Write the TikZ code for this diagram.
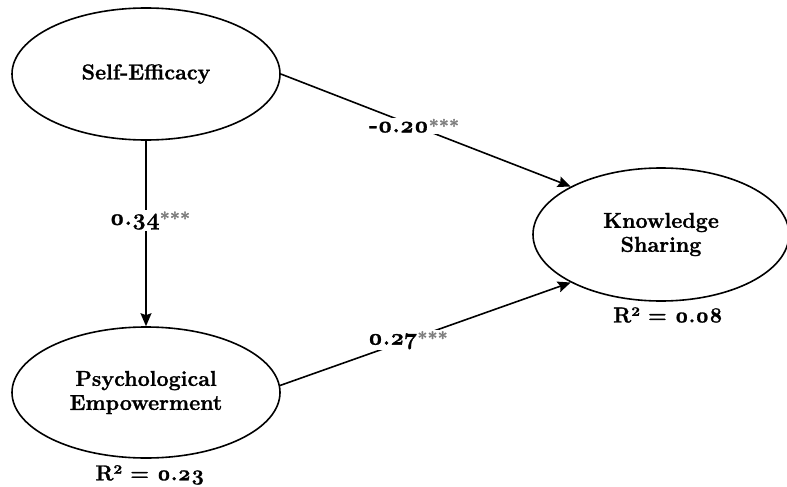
\documentclass[tikz,border=0pt]{standalone}
\usepackage{fontspec}
\setmainfont{Latin Modern Roman}[Numbers=OldStyle,BoldFeatures={FakeBold=1.2}]
\usetikzlibrary{shapes.geometric,arrows.meta}
\definecolor{stargray}{RGB}{125,125,125}
\newcommand{\sigstars}{{\color{stargray}\fontsize{18}{18}\selectfont ***}}
\begin{document}
\begin{tikzpicture}[x=1pt,y=-1pt,
  latent/.style={ellipse,draw,line width=1.6pt,inner sep=0pt,align=center,
    font=\fontsize{21.5}{24}\selectfont\bfseries},
  pathline/.style={line width=1.6pt,-{Stealth[length=13pt,width=11pt,inset=2pt]}},
  coef/.style={fill=white,inner sep=1pt,font=\fontsize{23}{23}\selectfont\bfseries},
  rsq/.style={font=\fontsize{21.5}{22}\selectfont\bfseries}]
\useasboundingbox (0,0) rectangle (787,487);
\node[latent,minimum width=268pt,minimum height=132pt] (se) at (146,74) {Self-Efficacy};
\node[latent,minimum width=268pt,minimum height=131pt] (pe) at (146,392.5) {Psychological\\Empowerment};
\node[latent,minimum width=256pt,minimum height=133pt] (ks) at (661,234.5) {Knowledge\\Sharing};
\node[rsq] (r1) at (150,475) {R² = 0.23};
\node[rsq] (r2) at (668,315) {R² = 0.08};
\draw[pathline] (se.south) -- (pe.north)
  node[coef,pos=0.43,xshift=4pt] (c1) {0.34\sigstars};
\draw[pathline] (se.east) -- (ks.152)
  node[coef,pos=0.46] (c2) {-0.20\sigstars};
\draw[pathline] (pe.3) -- (ks.208)
  node[coef,pos=0.44] (c3) {0.27\sigstars};
\end{tikzpicture}
\end{document}
